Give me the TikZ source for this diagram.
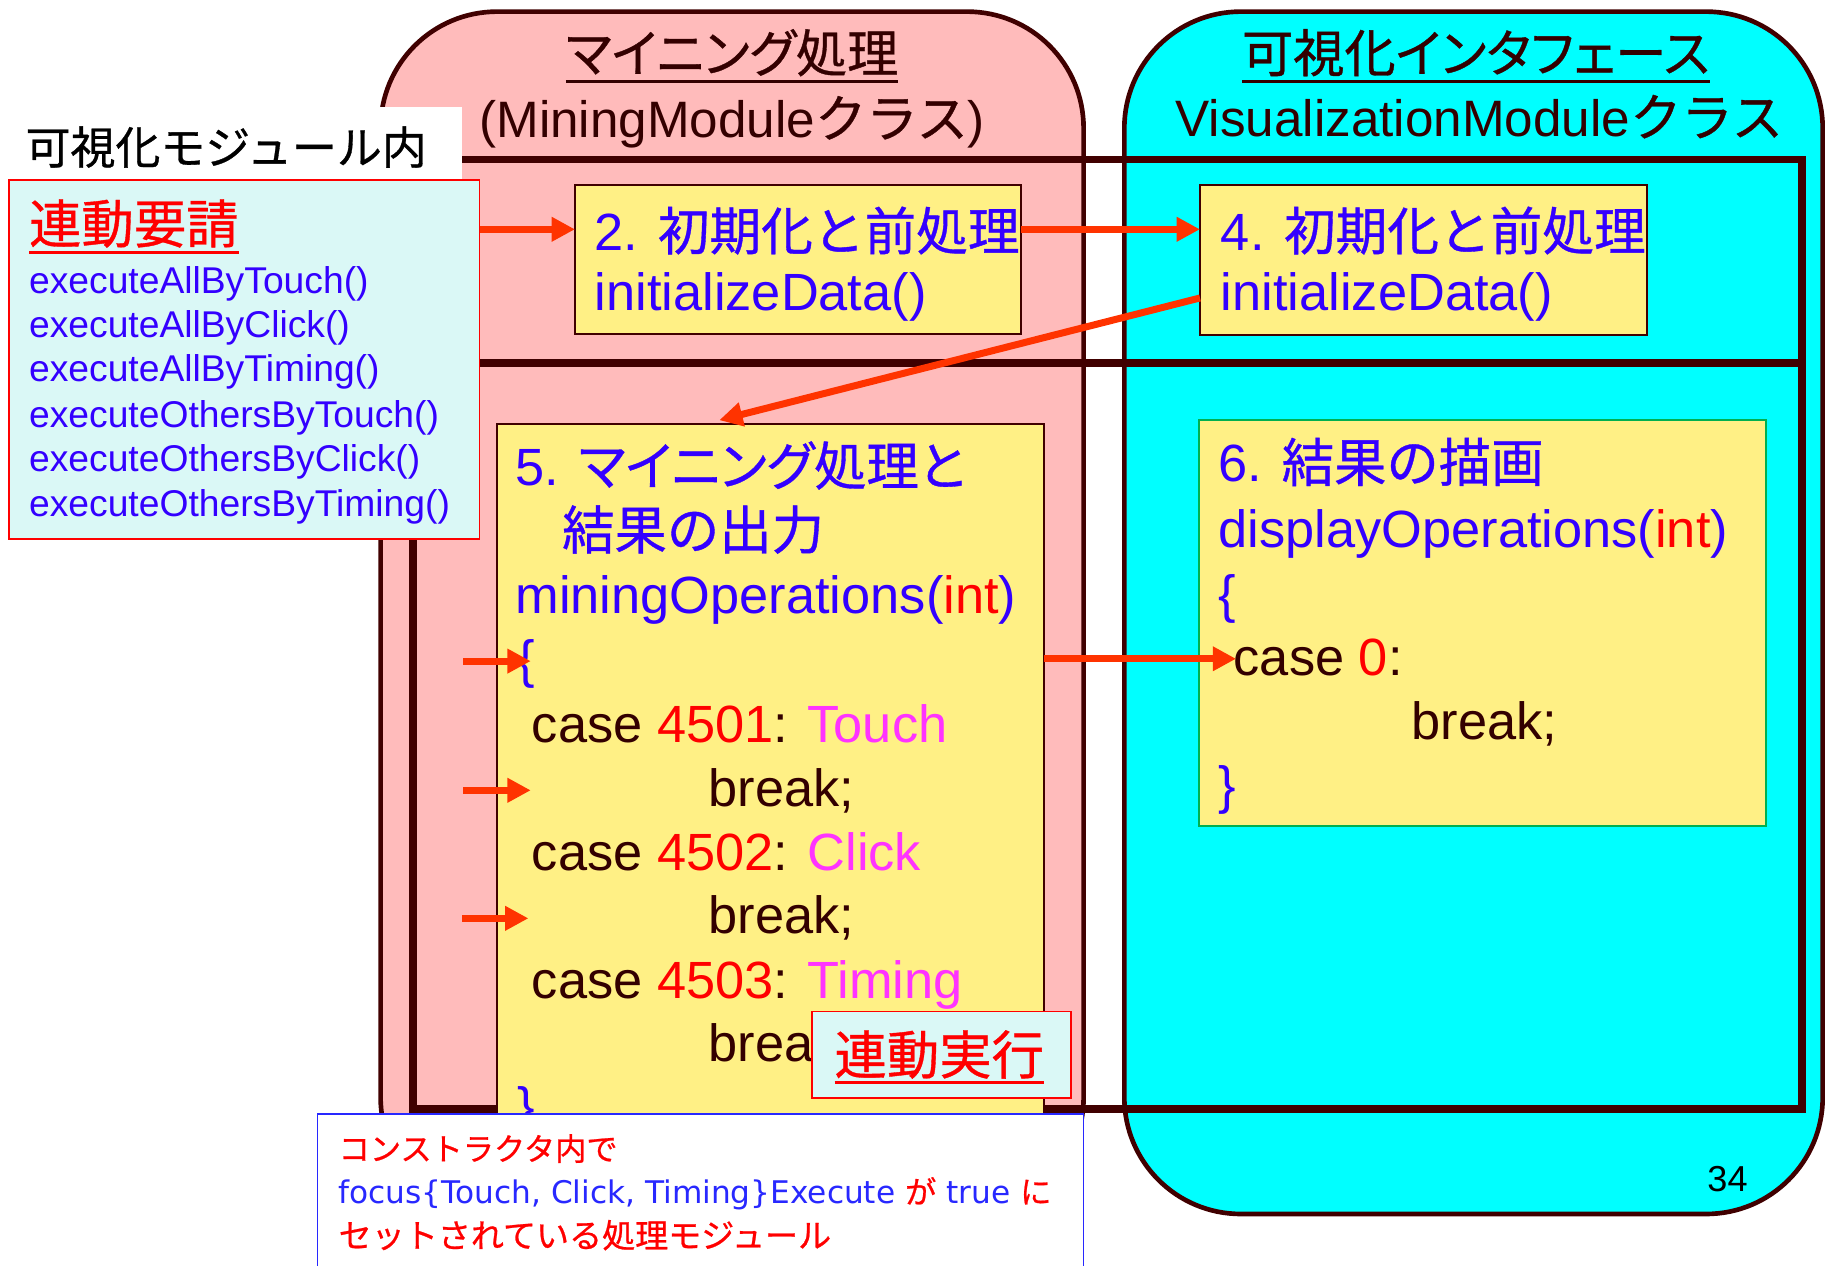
\documentclass[tikz,border=0pt]{standalone}
\usepackage{fontspec}
\setmainfont{Liberation Sans}
\newfontfamily\jp[FakeBold=0.7]{Noto Sans CJK JP}
\newfontfamily\jpp[RawFeature=+palt,FakeBold=0.7]{Noto Sans CJK JP}
\newfontfamily\dvs{DejaVu Sans}
\usetikzlibrary{arrows.meta}
\definecolor{pinkfill}{RGB}{255,187,187}
\definecolor{cyanfill}{RGB}{0,255,255}
\definecolor{darkb}{RGB}{64,0,0}
\definecolor{yel}{RGB}{255,240,133}
\definecolor{lcyan}{RGB}{218,248,246}
\definecolor{arrred}{RGB}{255,51,0}
\definecolor{tblue}{RGB}{51,0,255}
\definecolor{tred}{RGB}{255,0,0}
\definecolor{tmag}{RGB}{255,51,255}
\definecolor{tdark}{RGB}{51,0,0}
\definecolor{gborder}{RGB}{0,176,80}
\definecolor{nblue}{RGB}{40,40,255}
\begin{document}
\begin{tikzpicture}[x=0.5pt,y=-0.5pt,
  box/.style={anchor=north west, inner sep=0pt, outer sep=0pt},
  txt/.style={anchor=base west, inner sep=0pt, outer sep=0pt},
  ctxt/.style={anchor=base, inner sep=0pt, outer sep=0pt},
  big/.style={font=\fontsize{22.5pt}{27pt}\selectfont},
  hdr/.style={font=\fontsize{22pt}{26pt}\selectfont, text=tdark},
  small/.style={font=\fontsize{16pt}{19pt}\selectfont, text=tblue},
  note/.style={font=\fontsize{13.4pt}{16pt}\selectfont},
  ybox/.style={box, fill=yel, draw=darkb, line width=0.8pt},
  arr/.style={draw=arrred, line width=3pt, -{Triangle[length=10pt,width=10pt]}},
  ul/.style={line width=1.5pt},
]
\useasboundingbox (0,0) rectangle (1568,1087);

% module boxes
\node[box, draw=darkb, line width=2pt, fill=pinkfill, rounded corners=50pt,
      minimum width=302pt, minimum height=516.5pt] (pink) at (327,10) {};
\node[box, draw=darkb, line width=2pt, fill=cyanfill, rounded corners=50pt,
      minimum width=300pt, minimum height=516.5pt] (cyan) at (966,10) {};

% headers
\node[ctxt, hdr, font=\fontsize{22pt}{26pt}\selectfont\jpp] (h1) at (629,62) {マイニング処理};
\draw[tdark, ul] ([yshift=-4pt]h1.base west) -- ([yshift=-4pt]h1.base east);
\node[ctxt, hdr] (h2) at (629,118) {(MiningModule{\jp クラス})};
\node[ctxt, hdr, font=\fontsize{22pt}{26pt}\selectfont\jpp] (h3) at (1268,62) {可視化インタフェース};
\draw[tdark, ul] ([yshift=-4pt]h3.base west) -- ([yshift=-4pt]h3.base east);
\node[ctxt, hdr] (h4) at (1271,117) {VisualizationModule{\jp クラス}};

% frame
\draw[darkb, line width=3.25pt] (355,137) rectangle (1548,953);
\draw[darkb, line width=3.25pt] (355,312) -- (1548,312);

% label
\node[box, fill=white, minimum width=198.5pt, minimum height=31.5pt] (lblbg) at (0,92) {};
\node[txt, font=\fontsize{19.3pt}{23pt}\selectfont\jp] (lbl) at (22,141) {可視化モジュール内};

% request list
\node[box, draw=red, line width=0.8pt, fill=lcyan, minimum width=202pt, minimum height=154pt] (list) at (8,155) {};
\node[txt, text=tred, font=\fontsize{22.5pt}{27pt}\selectfont\jp] (req) at (25,209) {連動要請};
\draw[tred, ul] ([yshift=-4pt]req.base west) -- ([yshift=-4pt]req.base east);
\node[txt, small] (l1) at (25,252) {executeAllByTouch()};
\node[txt, small] (l2) at (25,290) {executeAllByClick()};
\node[txt, small] (l3) at (25,328) {executeAllByTiming()};
\node[txt, small] (l4) at (25,367) {executeOthersByTouch()};
\node[txt, small] (l5) at (25,405) {executeOthersByClick()};
\node[txt, small] (l6) at (25,444) {executeOthersByTiming()};

% box 2
\node[ybox, minimum width=191.5pt, minimum height=64pt] (b2) at (494,159) {};
\node[txt, big, text=tblue] (b2a) at (511,215) {2. {\jp\fontsize{22.2pt}{27pt}\selectfont 初期化と前処理}};
\node[txt, big, text=tblue] (b2b) at (511,267) {initializeData()};

% box 4
\node[ybox, minimum width=192pt, minimum height=64.5pt] (b4) at (1031,159) {};
\node[txt, big, text=tblue] (b4a) at (1049,215) {4. {\jp\fontsize{22.2pt}{27pt}\selectfont 初期化と前処理}};
\node[txt, big, text=tblue] (b4b) at (1049,267) {initializeData()};

% box 5
\node[ybox, minimum width=235pt, minimum height=318pt] (b5) at (427,364) {};
\node[txt, big, text=tblue] (b5a) at (443,417) {5. {\jpp マイニング処理と}};
\node[txt, big, text=tblue, font=\fontsize{22.5pt}{27pt}\selectfont\jp] (b5b) at (483,472) {結果の出力};
\node[txt, big, text=tblue] (b5c) at (443,527) {miningOperations(\textcolor{tred}{int})};
\node[txt, big, text=tblue] (b5d) at (445,582) {\{};
\node[txt, big, text=tdark] (b5e) at (457,638) {case \textcolor{tred}{4501}: \textcolor{tmag}{Touch}};
\node[txt, big, text=tdark] (b5f) at (609,693) {break;};
\node[txt, big, text=tdark] (b5g) at (457,748) {case \textcolor{tred}{4502}: \textcolor{tmag}{Click}};
\node[txt, big, text=tdark] (b5h) at (609,802) {break;};
\node[txt, big, text=tdark] (b5i) at (457,858) {case \textcolor{tred}{4503}: \textcolor{tmag}{Timing}};
\node[txt, big, text=tdark] (b5j) at (609,912) {brea};
\node[txt, big, text=tblue] (b5k) at (445,966) {\}};

% box 6
\node[box, fill=yel, draw=gborder, line width=0.8pt, minimum width=243.5pt, minimum height=174.5pt] (b6) at (1030,361) {};
\node[txt, big, text=tblue] (b6a) at (1047,414) {6. {\jp 結果の描画}};
\node[txt, big, text=tblue] (b6b) at (1047,470) {displayOperations(\textcolor{tred}{int})};
\node[txt, big, text=tblue] (b6c) at (1047,526) {\{};
\node[txt, big, text=tdark] (b6d) at (1060,580) {case \textcolor{tred}{0}:};
\node[txt, big, text=tdark] (b6e) at (1213,635) {break;};
\node[txt, big, text=tblue] (b6f) at (1047,690) {\}};

% arrows
\coordinate (yA) at (0,197);
\coordinate (s4) at (1031,256);
\coordinate (t5) at (618,361);
\coordinate (yB) at (0,566);
\coordinate (t6) at (1062,566);
\draw[arr] (list.east |- yA) -- (b2.west |- yA);
\draw[arr] (b2.east |- yA) -- (b4.west |- yA);
\draw[arr] (s4) -- (t5);
\draw[arr] (b5.east |- yB) -- (t6);
\coordinate (a1s) at (398,568); \coordinate (a1e) at (456,568);
\coordinate (a2s) at (398,679); \coordinate (a2e) at (456,679);
\coordinate (a3s) at (397,789); \coordinate (a3e) at (454,789);
\draw[arr] (a1s) -- (a1e);
\draw[arr] (a2s) -- (a2e);
\draw[arr] (a3s) -- (a3e);

% joint execution box
\node[box, draw=red, line width=0.8pt, fill=lcyan, minimum width=111pt, minimum height=37pt] (jx) at (698,869) {};
\node[txt, text=tred, font=\fontsize{22.5pt}{27pt}\selectfont\jp] (jxt) at (717,923) {連動実行};
\draw[tred, ul] ([yshift=-3.5pt]jxt.base west) -- ([yshift=-3.5pt]jxt.base east);

% note box
\node[box, draw=nblue, line width=0.6pt, fill=white, minimum width=329pt, minimum height=80pt] (nb) at (273,957) {};
\node[txt, note, text=tred, font=\fontsize{13.4pt}{16pt}\selectfont\jp] (n1) at (291,997) {コンストラクタ内で};
\node[txt, note] (n2) at (291,1034) {\dvs\textcolor{nblue}{focus\{Touch, Click, Timing\}Execute} {\jp\textcolor{tred}{が}} \textcolor{nblue}{true} {\jp\textcolor{tred}{に}}};
\node[txt, note, text=tred, font=\fontsize{14.2pt}{17pt}\selectfont\jp] (n3) at (291,1072) {セットされている処理モジュール};

% page number
\node[txt, font=\fontsize{15.5pt}{18pt}\selectfont] (pg) at (1467,1024) {34};
\end{tikzpicture}
\end{document}
